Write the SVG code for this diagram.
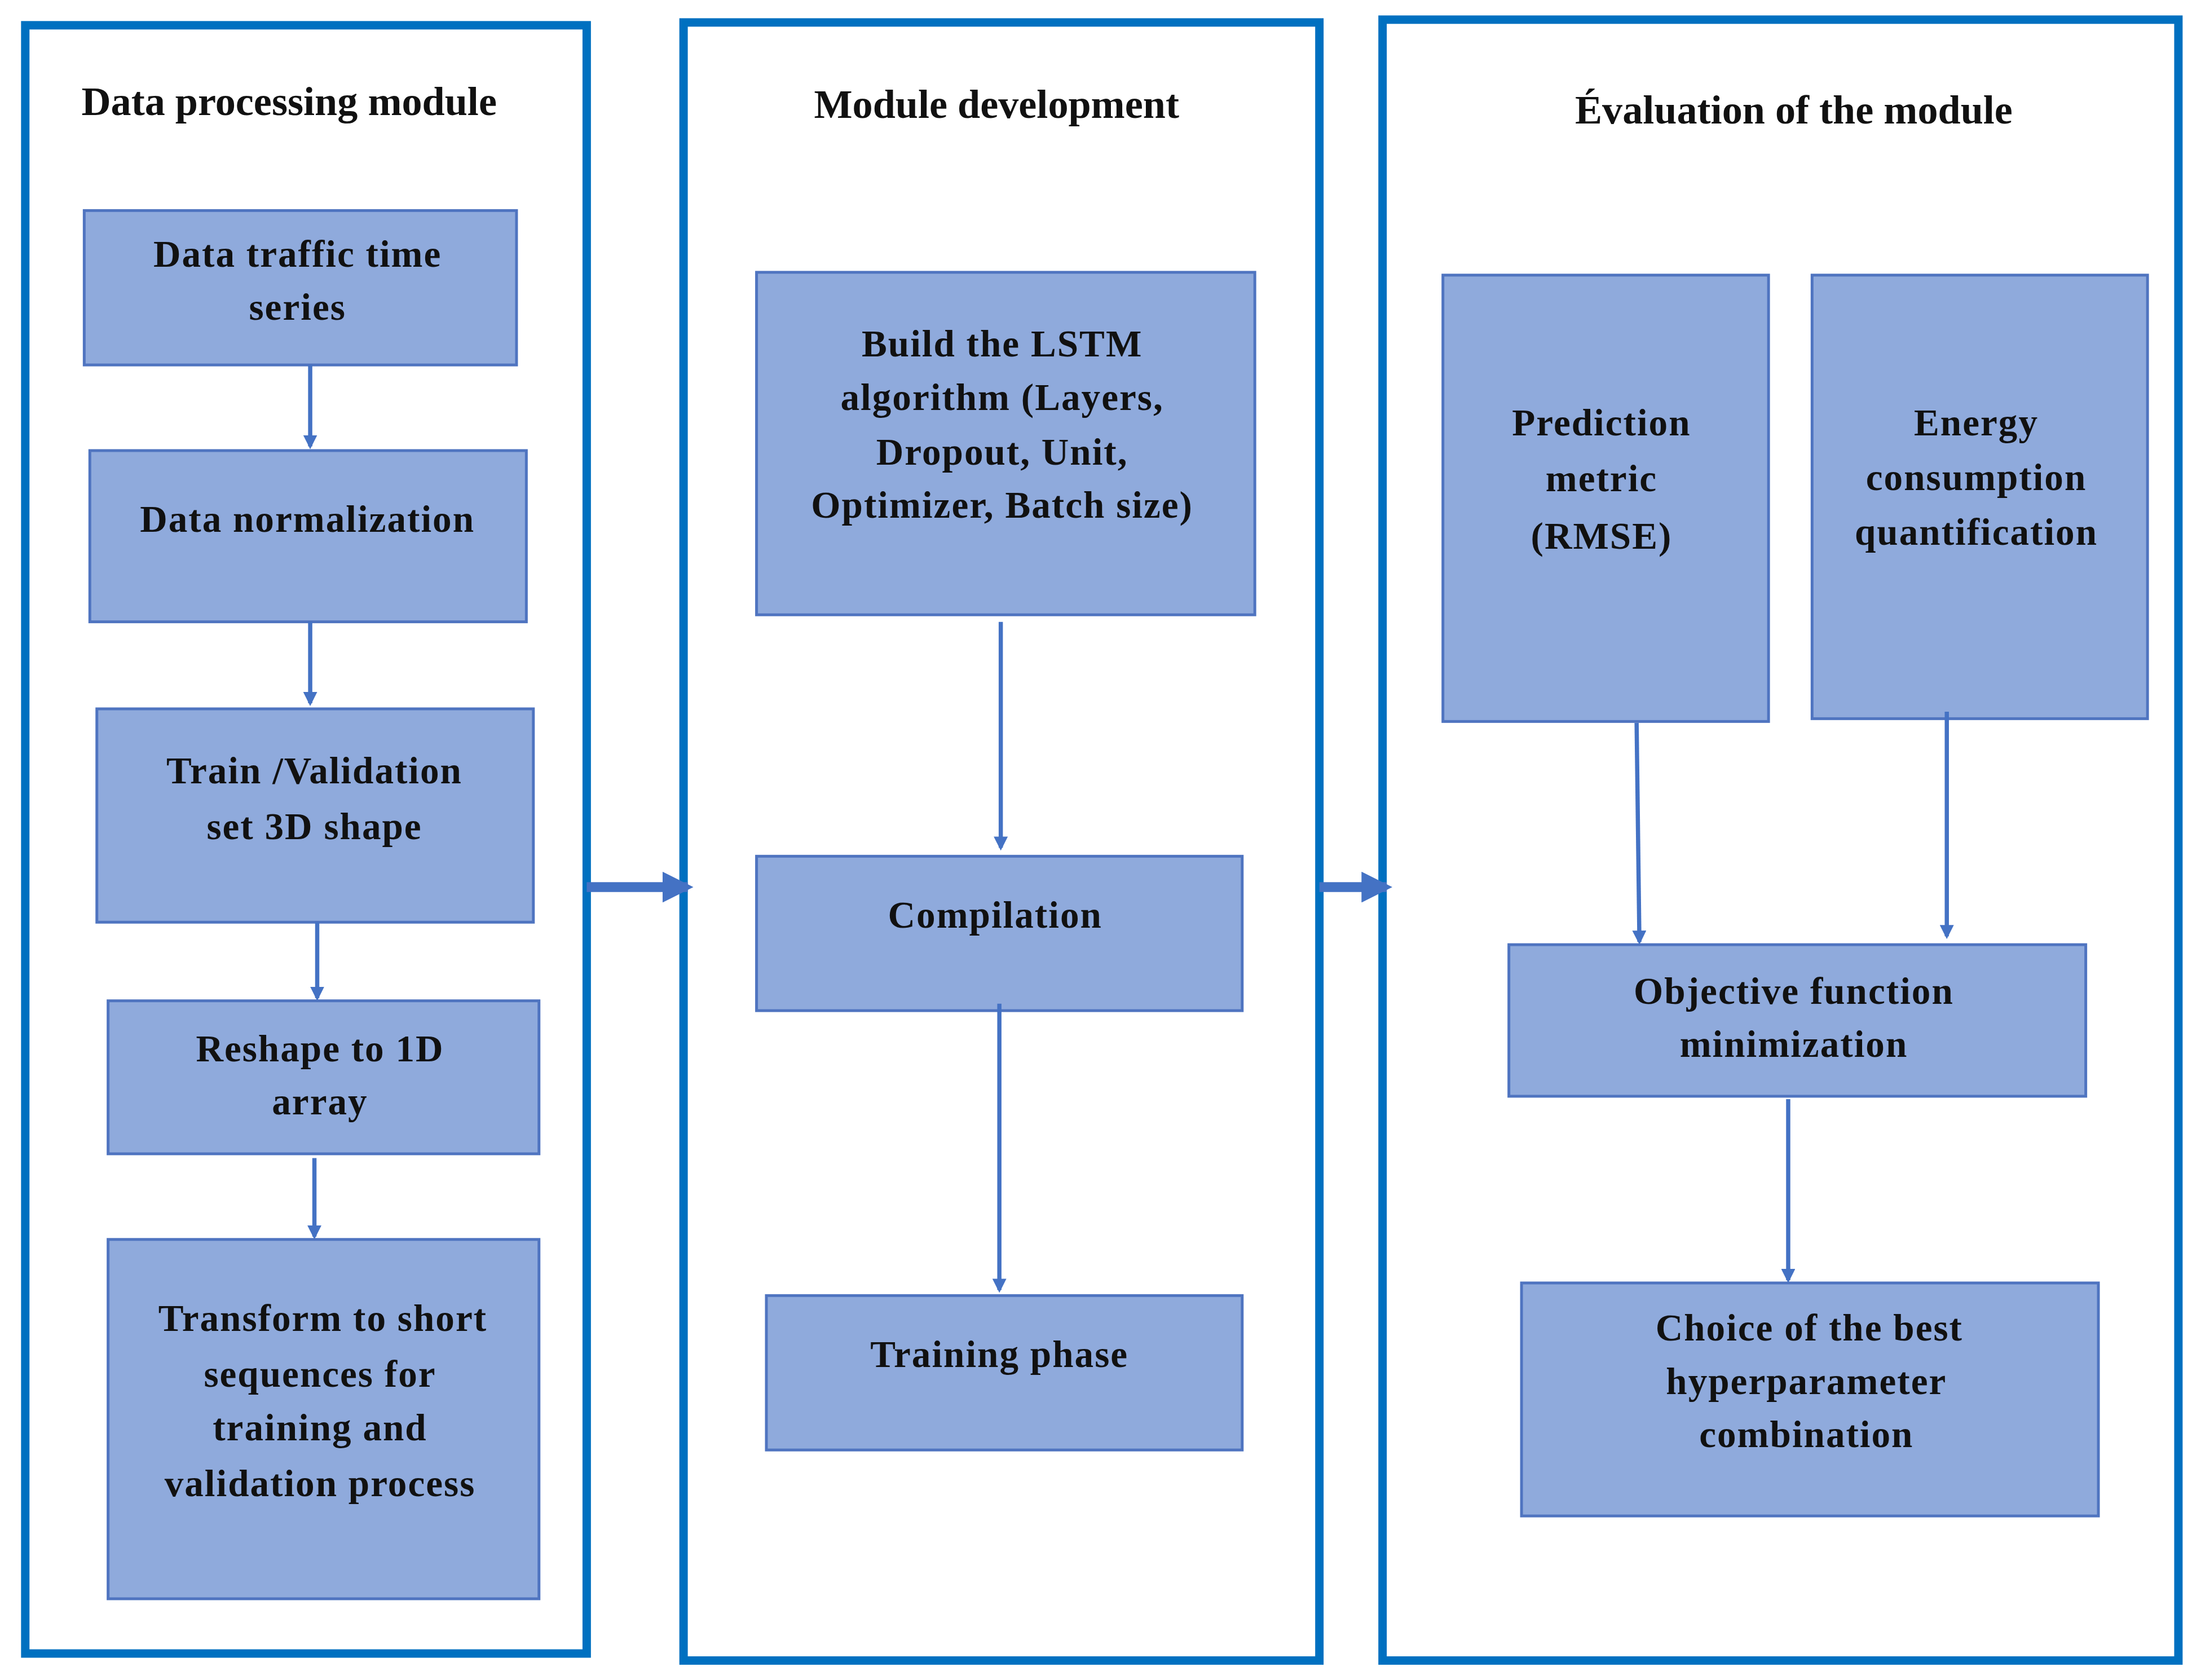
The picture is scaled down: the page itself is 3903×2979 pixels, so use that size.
<svg xmlns="http://www.w3.org/2000/svg" width="3903" height="2979" viewBox="0 0 3903 2979">
<style>
.panel{fill:#fff;stroke:#0070c0;stroke-width:6}
.box{fill:#8faadc;stroke:#4f74c0;stroke-width:2}
text{font-family:"Liberation Serif","Times New Roman",serif;font-weight:bold;fill:#111;text-anchor:middle}
.t{font-size:27px;letter-spacing:0.8px}
.h{font-size:29px}
.arr{stroke:#4472c4;stroke-width:3;fill:none}
.big{stroke:#4472c4;stroke-width:7;fill:none}
</style>
<defs>
<marker id="ah" markerWidth="10" markerHeight="10" refX="8" refY="5" orient="auto" markerUnits="userSpaceOnUse"><path d="M0,0 L10,5 L0,10 Z" fill="#4472c4"/></marker>
<marker id="bh" markerWidth="22" markerHeight="22" refX="18" refY="11" orient="auto" markerUnits="userSpaceOnUse"><path d="M0,0 L22,11 L0,22 Z" fill="#4472c4"/></marker>
</defs>
<rect width="3903" height="2979" fill="#fff"/>
<g transform="scale(2.489)">
<g id="panel1"><rect class="panel" x="18" y="18" width="400" height="1160"/><text class="h" x="206" y="82">Data processing module</text></g>
<g id="panel2"><rect class="panel" x="487" y="16" width="453" height="1167"/><text class="h" x="710" y="84">Module development</text></g>
<g id="panel3"><rect class="panel" x="985" y="14" width="567" height="1169"/><text class="h" x="1278" y="88">Évaluation of the module</text></g>

<g id="b1"><rect class="box" x="60" y="150" width="308" height="110"/><text class="t" x="212" y="190">Data traffic time</text><text class="t" x="212" y="228">series</text></g>
<g id="b2"><rect class="box" x="64" y="321" width="311" height="122"/><text class="t" x="219" y="379">Data normalization</text></g>
<g id="b3"><rect class="box" x="69" y="505" width="311" height="152"/><text class="t" x="224" y="558">Train /Validation</text><text class="t" x="224" y="598">set 3D shape</text></g>
<g id="b4"><rect class="box" x="77" y="713" width="307" height="109"/><text class="t" x="228" y="756">Reshape to 1D</text><text class="t" x="228" y="794">array</text></g>
<g id="b5"><rect class="box" x="77" y="883" width="307" height="256"/><text class="t" x="230" y="948">Transform to short</text><text class="t" x="228" y="988">sequences  for</text><text class="t" x="228" y="1026">training and</text><text class="t" x="228" y="1066">validation process</text></g>

<g id="c1"><rect class="box" x="539" y="194" width="355" height="244"/><text class="t" x="714" y="254">Build the  LSTM</text><text class="t" x="714" y="292">algorithm (Layers,</text><text class="t" x="714" y="331">Dropout, Unit,</text><text class="t" x="714" y="369">Optimizer, Batch size)</text></g>
<g id="c2"><rect class="box" x="539" y="610" width="346" height="110"/><text class="t" x="709" y="661">Compilation</text></g>
<g id="c3"><rect class="box" x="546" y="923" width="339" height="110"/><text class="t" x="712" y="974">Training phase</text></g>

<g id="d1"><rect class="box" x="1028" y="196" width="232" height="318"/><text class="t" x="1141" y="310">Prediction</text><text class="t" x="1141" y="350">metric</text><text class="t" x="1141" y="391">(RMSE)</text></g>
<g id="d2"><rect class="box" x="1291" y="196" width="239" height="316"/><text class="t" x="1408" y="310">Energy</text><text class="t" x="1408" y="349">consumption</text><text class="t" x="1408" y="388">quantification</text></g>
<g id="d3"><rect class="box" x="1075" y="673" width="411" height="108"/><text class="t" x="1278" y="715">Objective function</text><text class="t" x="1278" y="753">minimization</text></g>
<g id="d4"><rect class="box" x="1084" y="914" width="411" height="166"/><text class="t" x="1289" y="955">Choice of the best</text><text class="t" x="1287" y="993">hyperparameter</text><text class="t" x="1287" y="1031">combination</text></g>

<g id="connectors">
<line class="arr" x1="221" y1="260" x2="221" y2="318" marker-end="url(#ah)"/>
<line class="arr" x1="221" y1="443" x2="221" y2="501" marker-end="url(#ah)"/>
<line class="arr" x1="226" y1="657" x2="226" y2="711" marker-end="url(#ah)"/>
<line class="arr" x1="224" y1="825" x2="224" y2="881" marker-end="url(#ah)"/>
<line class="arr" x1="713" y1="443" x2="713" y2="604" marker-end="url(#ah)"/>
<line class="arr" x1="712" y1="715" x2="712" y2="919" marker-end="url(#ah)"/>
<line class="arr" x1="1166" y1="515" x2="1168" y2="671" marker-end="url(#ah)"/>
<line class="arr" x1="1387" y1="507" x2="1387" y2="667" marker-end="url(#ah)"/>
<line class="arr" x1="1274" y1="783" x2="1274" y2="912" marker-end="url(#ah)"/>
<line class="big" x1="418" y1="632" x2="490" y2="632" marker-end="url(#bh)"/>
<line class="big" x1="940" y1="632" x2="988" y2="632" marker-end="url(#bh)"/>
</g>
</g>
</svg>
